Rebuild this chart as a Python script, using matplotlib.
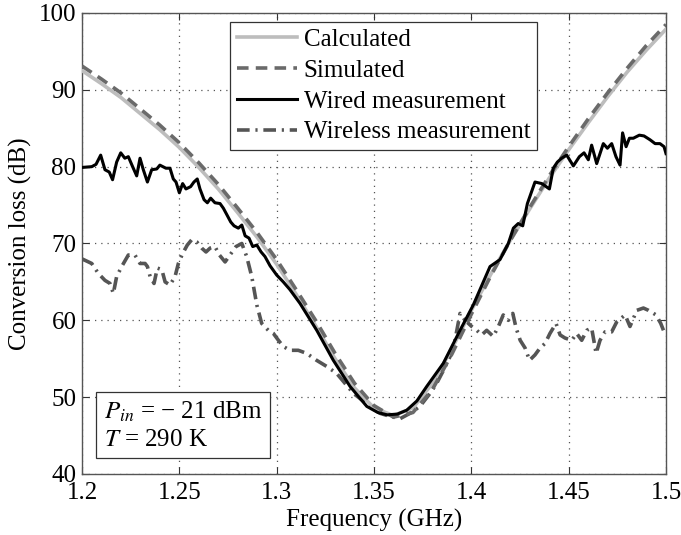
import matplotlib
matplotlib.use("Agg")
import matplotlib.pyplot as plt
import numpy as np

plt.rcParams['font.family'] = ['Liberation Serif', 'DejaVu Serif']
plt.rcParams['mathtext.fontset'] = 'stix'

# ---- data ----
f_model = [1.20, 1.21, 1.22, 1.23, 1.24, 1.25, 1.26, 1.27, 1.28, 1.29, 1.30,
           1.31, 1.32, 1.33, 1.34, 1.35, 1.36, 1.37, 1.38, 1.39, 1.40,
           1.41, 1.42, 1.43, 1.44, 1.45, 1.46, 1.47, 1.48, 1.49, 1.50]
calculated = [92.5, 90.8, 89.0, 86.9, 84.8, 82.5, 79.9, 77.1, 74.0, 70.8, 67.3,
              63.4, 59.3, 55.0, 51.2, 48.6, 47.6, 48.6, 51.8, 56.3, 61.3,
              66.0, 70.4, 74.5, 78.5, 82.2, 85.7, 89.1, 92.3, 95.2, 97.9]
simulated = [93.1, 91.4, 89.6, 87.5, 85.4, 83.1, 80.5, 77.7, 74.6, 71.4, 67.9,
             64.0, 60.0, 55.7, 51.8, 48.9, 47.4, 48.0, 51.0, 55.6, 60.8,
             65.8, 70.4, 74.7, 78.8, 82.6, 86.2, 89.6, 92.8, 95.8, 98.5]

f_wired = [1.2000, 1.2050, 1.2072, 1.2096, 1.2118, 1.2140, 1.2157, 1.2178, 1.2199,
           1.2220, 1.2238, 1.2260, 1.2281, 1.2298, 1.2315, 1.2336, 1.2358, 1.2384,
           1.2400, 1.2431, 1.2452, 1.2469, 1.2483, 1.2500, 1.2517, 1.2534, 1.2558,
           1.2575, 1.2592, 1.2606, 1.2627, 1.2644, 1.2661, 1.2683, 1.2709, 1.2726,
           1.2743, 1.2764, 1.2781, 1.2803, 1.2821, 1.2838, 1.2858, 1.2877, 1.2898,
           1.2920, 1.2940, 1.2966, 1.3000, 1.3034, 1.3068, 1.3120, 1.3206, 1.3291,
           1.3377, 1.3463, 1.3520, 1.3568, 1.3620, 1.3668, 1.3720, 1.3771, 1.3856,
           1.3942, 1.4010, 1.4096, 1.4147, 1.4190, 1.4216, 1.4241, 1.4264, 1.4288,
           1.4327, 1.4362, 1.4401, 1.4421, 1.4442, 1.4464, 1.4490, 1.4524, 1.4555,
           1.4579, 1.4601, 1.4618, 1.4644, 1.4661, 1.4678, 1.4699, 1.4721, 1.4743,
           1.4764, 1.4777, 1.4795, 1.4812, 1.4832, 1.4863, 1.4887, 1.4918, 1.4944,
           1.4969, 1.4990, 1.5000]
wired = [79.9, 80.0, 80.3, 81.5, 79.6, 79.3, 78.3, 80.6, 81.8,
         81.1, 81.3, 80.0, 78.8, 81.1, 79.6, 78.0, 79.6, 79.7,
         80.2, 79.8, 79.8, 78.4, 78.0, 76.6, 77.8, 77.1, 77.4,
         78.0, 78.4, 77.1, 75.7, 75.3, 75.9, 75.3, 75.2, 74.6,
         73.8, 72.8, 72.3, 72.0, 72.4, 71.0, 70.7, 69.6, 69.8,
         68.9, 68.3, 67.1, 65.9, 65.0, 64.0, 62.2, 58.7, 54.8,
         51.4, 48.8, 48.0, 47.7, 47.8, 48.3, 49.5, 51.4, 54.4,
         58.7, 62.0, 67.0, 67.9, 70.0, 72.0, 72.6, 72.3, 75.2,
         78.0, 77.8, 77.1, 79.8, 80.6, 81.1, 81.5, 80.1, 81.3,
         81.8, 80.9, 82.8, 80.4, 81.7, 83.0, 82.4, 83.0, 81.3,
         80.2, 84.4, 82.6, 83.7, 83.7, 84.1, 84.0, 83.5, 83.0,
         83.0, 82.6, 81.7]

f_wireless = [1.2000, 1.2050, 1.2084, 1.2118, 1.2144, 1.2161, 1.2178, 1.2204, 1.2238,
              1.2272, 1.2298, 1.2324, 1.2336, 1.2350, 1.2370, 1.2387, 1.2410, 1.2427,
              1.2452, 1.2478, 1.2495, 1.2517, 1.2541, 1.2564, 1.2590, 1.2615, 1.2637,
              1.2658, 1.2683, 1.2706, 1.2735, 1.2760, 1.2791, 1.2821, 1.2846, 1.2872,
              1.2898, 1.2923, 1.2957, 1.2983, 1.3009, 1.3034, 1.3068, 1.3111, 1.3154,
              1.3205, 1.3257, 1.3308, 1.3351, 1.3394, 1.3480, 1.3531, 1.3582, 1.3634,
              1.3685, 1.3736, 1.3788, 1.3822, 1.3857, 1.3891, 1.3916, 1.3942, 1.3968,
              1.4002, 1.4028, 1.4053, 1.4079, 1.4113, 1.4139, 1.4164, 1.4190, 1.4213,
              1.4230, 1.4251, 1.4276, 1.4299, 1.4327, 1.4353, 1.4379, 1.4404, 1.4435,
              1.4456, 1.4481, 1.4516, 1.4541, 1.4567, 1.4593, 1.4618, 1.4641, 1.4661,
              1.4687, 1.4721, 1.4747, 1.4790, 1.4815, 1.4850, 1.4884, 1.4910, 1.4949,
              1.4973, 1.4987]
wireless = [68.0, 67.4, 66.1, 65.2, 64.8, 63.5, 65.7, 67.0, 68.5,
            68.5, 67.4, 67.4, 67.0, 65.7, 64.8, 66.8, 66.6, 65.0,
            64.6, 65.7, 67.4, 68.7, 69.8, 70.5, 70.2, 69.4, 68.9,
            69.4, 69.6, 68.5, 67.6, 68.5, 69.6, 70.0, 68.3, 65.7,
            62.0, 59.6, 58.7, 58.3, 57.4, 56.6, 56.1, 56.1, 55.7,
            54.8, 54.0, 53.1, 51.8, 50.5, 48.8, 47.9, 47.5, 47.2,
            47.9, 48.8, 50.5, 51.8, 53.5, 55.3, 57.4, 60.9, 60.0,
            59.2, 58.7, 58.1, 58.7, 57.9, 59.2, 60.7, 60.0, 60.9,
            59.0, 57.4, 56.4, 54.8, 55.5, 56.4, 57.0, 58.3, 59.6,
            58.1, 57.7, 57.4, 58.3, 57.4, 58.7, 59.0, 55.7, 57.4,
            58.5, 58.5, 59.8, 60.7, 59.2, 61.3, 61.6, 61.3, 60.7,
            59.6, 58.7]

xticks = [1.2, 1.25, 1.3, 1.35, 1.4, 1.45, 1.5]
xticklabels = ['1.2', '1.25', '1.3', '1.35', '1.4', '1.45', '1.5']
yticks = [40, 50, 60, 70, 80, 90, 100]

FS = 18

# ---- figure ----
fig = plt.figure(figsize=(6.81, 5.35), dpi=100)
ax = fig.add_axes([82/681, 1 - 474/535, (666 - 82)/681, (474 - 13)/535])

ax.plot(f_model, calculated, color='#bdbdbd', lw=2.6, label='Calculated', zorder=3)
ax.plot(f_model, simulated, color='#6a6a6a', lw=2.6, ls=(0, (3.2, 2.0)),
        label='Simulated', zorder=4)
ax.plot(f_wired, wired, color='black', lw=2.2, label='Wired measurement', zorder=5)
ax.plot(f_wireless, wireless, color='#555555', lw=2.6, ls=(0, (3.5, 1.6, 0.6, 1.6)),
        label='Wireless measurement', zorder=2)

ax.set_xlim(1.2, 1.5)
ax.set_ylim(40, 100)
ax.set_xticks(xticks)
ax.set_xticklabels(xticklabels)
ax.set_yticks(yticks)
ax.tick_params(direction='in', top=True, right=True, labelsize=FS, length=5,
               width=0.8, colors='#333333', labelcolor='black')
ax.tick_params(axis='x', pad=6)
ax.tick_params(axis='y', pad=4)
ax.grid(True, color='#555555', ls=(0, (1, 4)), lw=0.9)
for s in ax.spines.values():
    s.set_color('#555555')
    s.set_linewidth(1.0)

ax.set_xlabel('Frequency (GHz)', fontsize=FS, labelpad=3)
ax.set_ylabel('Conversion loss (dB)', fontsize=FS, labelpad=5)

leg = ax.legend(loc='upper center', bbox_to_anchor=(0.517, 0.992), fontsize=FS,
                frameon=True, fancybox=False, framealpha=1, edgecolor='#333333',
                handlelength=2.4, handletextpad=0.25, borderpad=0.28,
                labelspacing=0.33, borderaxespad=0.2)
leg.get_frame().set_linewidth(0.9)

ax.text(0.037, 0.05, '$P_{in}$ = \u2212 21 dBm\n$T$ = 290 K', transform=ax.transAxes,
        fontsize=FS, va='bottom', ha='left', linespacing=1.3, zorder=6,
        bbox=dict(boxstyle='square,pad=0.3', fc='white', ec='#333333', lw=0.9))

fig.savefig('out.png', dpi=100)
